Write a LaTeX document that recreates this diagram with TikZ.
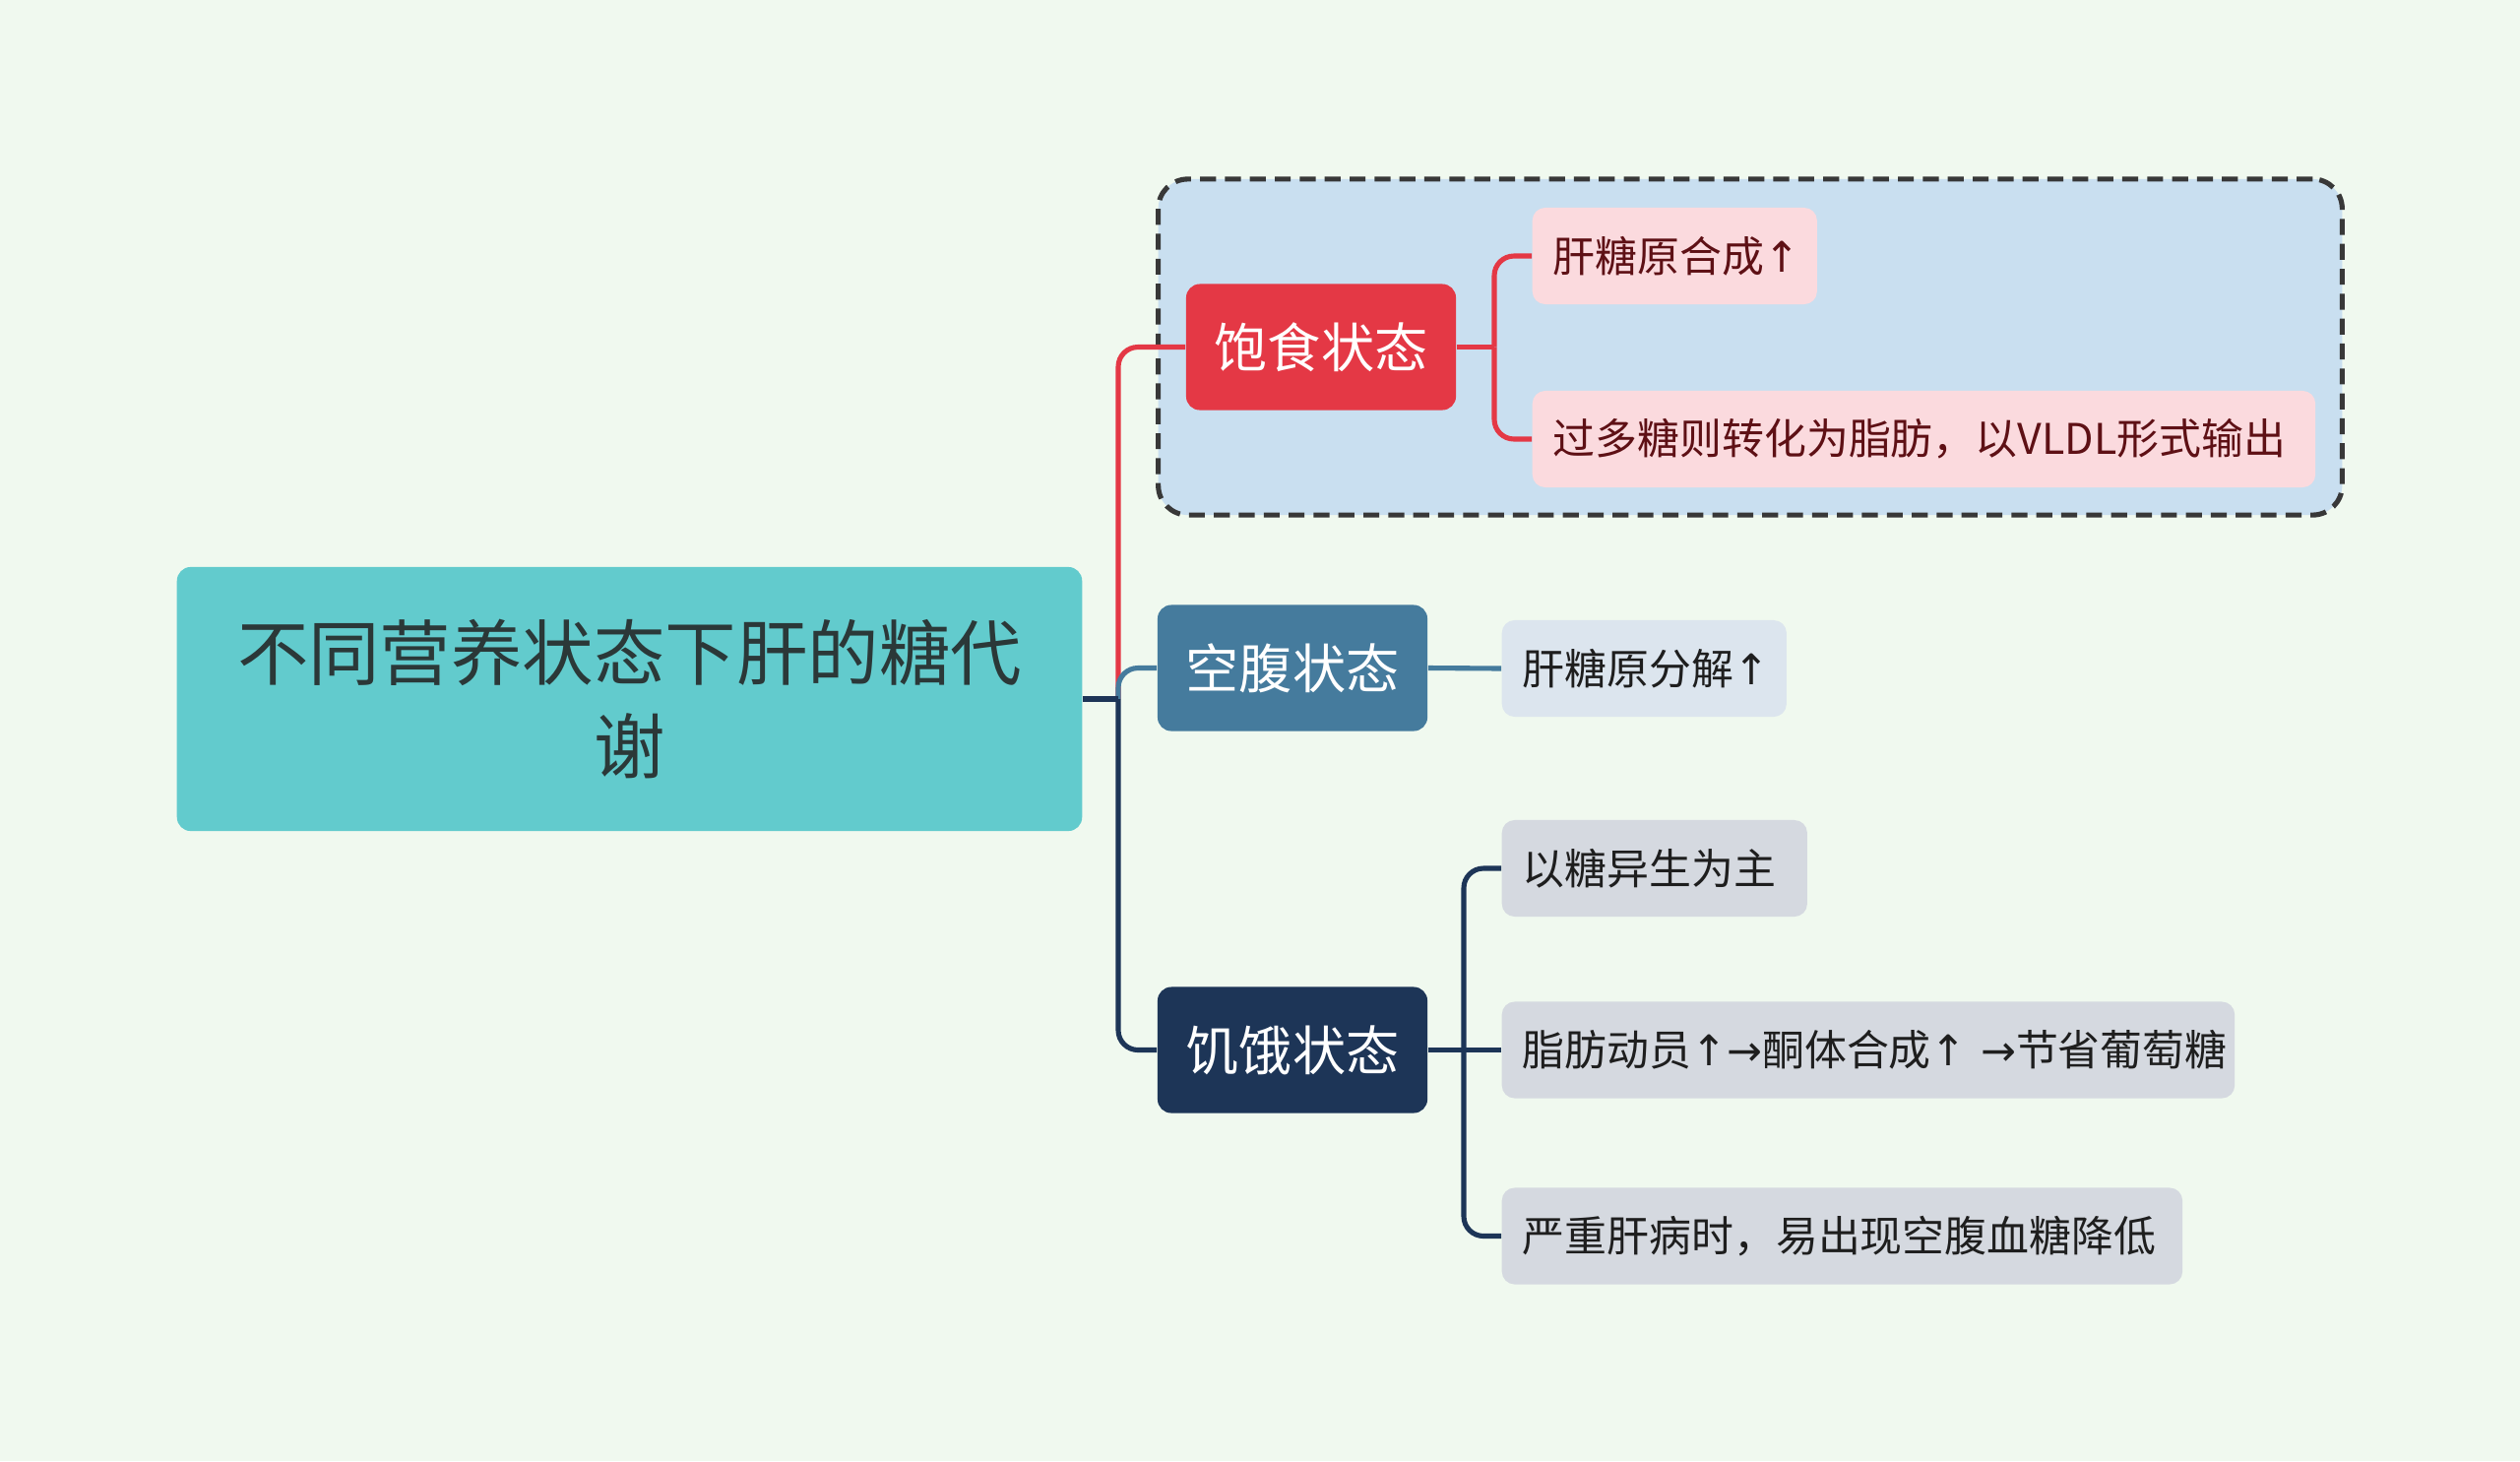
\documentclass[tikz,border=0pt]{standalone}
\usepackage{fontspec}
\setmainfont{Noto Sans CJK SC}
\newfontfamily\arrfont{DejaVu Sans}
\newcommand{\upar}{{\arrfont ↑}}
\newcommand{\rtar}{{\arrfont →}}
\definecolor{bgc}{HTML}{F0F9EF}
\definecolor{rootc}{HTML}{62CBCD}
\definecolor{roottext}{HTML}{2B3838}
\definecolor{zonec}{HTML}{C9DFF0}
\definecolor{zoneline}{HTML}{383838}
\definecolor{redc}{HTML}{E43845}
\definecolor{pinkc}{HTML}{FBDADE}
\definecolor{pinktext}{HTML}{5E1015}
\definecolor{bluec}{HTML}{457B9D}
\definecolor{lbluec}{HTML}{DCE5EE}
\definecolor{navyc}{HTML}{1D3557}
\definecolor{greyc}{HTML}{D5D9E0}
\definecolor{darktext}{HTML}{1E1E1E}
\tikzset{
  rootbox/.style={fill=rootc, rounded corners=0.14cm, text=roottext, align=center,
    font=\fontsize{20.6}{27}\selectfont, inner sep=0pt},
  mainbox/.style={rounded corners=0.14cm, text=white, align=center,
    font=\fontsize{15.4}{18}\selectfont, inner sep=0pt,
    minimum width=2.74cm, minimum height=1.28cm},
  leafbox/.style={rounded corners=0.13cm, align=left, anchor=west,
    font=\fontsize{12.2}{15}\selectfont, inner xsep=0.21cm, inner ysep=0pt,
    minimum height=0.98cm},
  conn/.style={line width=1.45pt, rounded corners=0.2cm},
}
\begin{document}
\begin{tikzpicture}[x=0.01cm, y=-0.01cm]
\fill[bgc] (0,0) rectangle (2560,1484);
\useasboundingbox (0,0) rectangle (2560,1484);

% dashed zone
\node[draw=zoneline, fill=zonec, dash pattern=on 4.6pt off 2.6pt, line width=1.45pt,
  rounded corners=0.3cm, minimum width=12.02cm, minimum height=3.41cm, inner sep=0pt]
  (zone) at (1778,352.5) {};

% root
\node[rootbox, minimum width=9.19cm, minimum height=2.68cm] (root) at (639.5,710)
  {不同营养状态下肝的糖代\\谢};

% main branches
\node[mainbox, fill=redc] (sat) at (1342,352.5) {饱食状态};
\node[mainbox, fill=bluec] (fast) at (1313,678.5) {空腹状态};
\node[mainbox, fill=navyc] (hun) at (1313,1066.5) {饥饿状态};

% leaves
\node[leafbox, fill=pinkc, text=pinktext, text width=2.47cm] (s1) at (1556,260) {\mbox{肝糖原合成\upar}};
\node[leafbox, fill=pinkc, text=pinktext, text width=7.53cm] (s2) at (1556,446) {\mbox{过多糖则转化为脂肪，以VLDL形式输出}};
\node[leafbox, fill=lbluec, text=darktext, text width=2.47cm] (f1) at (1525,679) {\mbox{肝糖原分解\upar}};
\node[leafbox, fill=greyc, text=darktext, text width=2.68cm] (h1) at (1525,882) {\mbox{以糖异生为主}};
\node[leafbox, fill=greyc, text=darktext, text width=7.02cm] (h2) at (1525,1066.5) {\mbox{脂肪动员\upar\rtar 酮体合成\upar\ \rtar 节省葡萄糖}};
\node[leafbox, fill=greyc, text=darktext, text width=6.49cm] (h3) at (1525,1255.5) {\mbox{严重肝病时，易出现空腹血糖降低}};

% junctions
\coordinate (J) at (1136,710);
\coordinate (KS) at (1518,352.5);
\coordinate (KH) at (1487,1066.5);

% root connectors
\draw[conn, redc] (J) |- (sat.west);
\draw[conn, bluec] (J) |- (fast.west);
\draw[conn, navyc] (J) |- (hun.west);
\draw[conn, navyc, rounded corners=0pt] (root.east) -- (J);

% satiety children
\draw[conn, redc, rounded corners=0pt] (sat.east) -- (KS);
\draw[conn, redc] (KS) |- (s1.west);
\draw[conn, redc] (KS) |- (s2.west);

% fasting child
\draw[conn, bluec] (fast.east) -- (f1.west);

% hunger children
\draw[conn, navyc, rounded corners=0pt] (hun.east) -- (h2.west);
\draw[conn, navyc] (KH) |- (h1.west);
\draw[conn, navyc] (KH) |- (h3.west);
\end{tikzpicture}
\end{document}
